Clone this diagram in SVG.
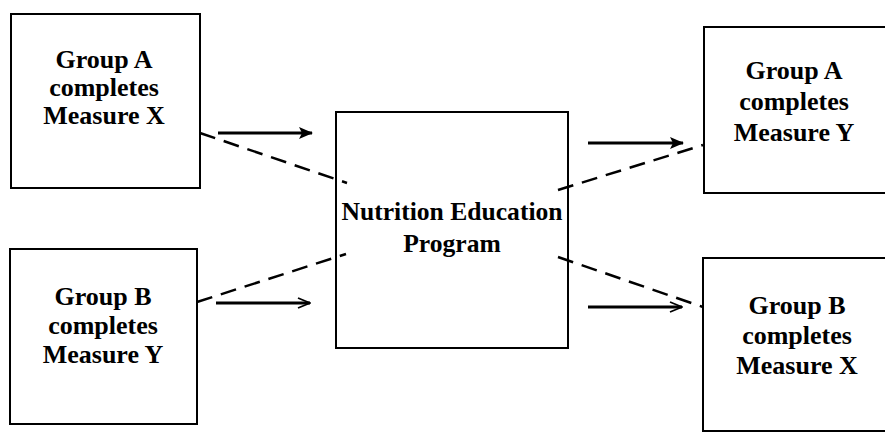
<svg xmlns="http://www.w3.org/2000/svg" width="885" height="432" viewBox="0 0 885 432">
<style>
.box{fill:#fff;stroke:#000;stroke-width:2}
.t{font-family:"Liberation Serif","Times New Roman",serif;font-weight:bold;font-size:26px;fill:#000;text-anchor:middle}
.c{font-size:25.6px}
.arr{stroke:#000;stroke-width:3.2;fill:none}
.dash{stroke:#000;stroke-width:2.5;fill:none;stroke-dasharray:16 9}
</style>
<defs>
<marker id="ah" viewBox="0 0 14 12" refX="13" refY="6" markerWidth="14" markerHeight="12" markerUnits="userSpaceOnUse" orient="auto">
<path d="M0,0 L14,6 L0,12 L3,6 Z" fill="#000"/>
</marker>
<marker id="ao" viewBox="0 0 14 12" refX="13" refY="6" markerWidth="14" markerHeight="12" markerUnits="userSpaceOnUse" orient="auto">
<path d="M1,1 L13,6 L1,11" fill="none" stroke="#000" stroke-width="1.8"/>
</marker>
</defs>
<rect width="885" height="432" fill="#fff"/>
<g id="nodeAX">
<rect class="box" x="11" y="14" width="189" height="174"/>
<text class="t" x="104" y="68">Group A</text>
<text class="t" x="104" y="96">completes</text>
<text class="t" x="104" y="124">Measure X</text>
</g>
<g id="nodeBY">
<rect class="box" x="10" y="249" width="187" height="175"/>
<text class="t" x="103" y="305">Group B</text>
<text class="t" x="103" y="334">completes</text>
<text class="t" x="103" y="363">Measure Y</text>
</g>
<g id="nodeProgram">
<rect class="box" x="336" y="112" width="232" height="236"/>
<text class="t c" x="452" y="220">Nutrition Education</text>
<text class="t c" x="452" y="252">Program</text>
</g>
<g id="nodeAY">
<rect class="box" x="704" y="27" width="190" height="166"/>
<text class="t" x="794" y="79">Group A</text>
<text class="t" x="794" y="110">completes</text>
<text class="t" x="794" y="141">Measure Y</text>
</g>
<g id="nodeBX">
<rect class="box" x="703" y="258" width="190" height="173"/>
<text class="t" x="797" y="314">Group B</text>
<text class="t" x="797" y="344">completes</text>
<text class="t" x="797" y="374">Measure X</text>
</g>
<g id="connectors">
<line class="arr" x1="218" y1="133" x2="312" y2="133" marker-end="url(#ah)"/>
<line class="arr" x1="216" y1="303" x2="310" y2="303" marker-end="url(#ao)"/>
<line class="arr" x1="588" y1="143" x2="683" y2="143" marker-end="url(#ah)"/>
<line class="arr" x1="588" y1="307" x2="682" y2="307" marker-end="url(#ao)"/>
<line class="dash" x1="200" y1="133" x2="347" y2="183"/>
<line class="dash" x1="197" y1="302" x2="346" y2="254"/>
<line class="dash" x1="558" y1="190" x2="703" y2="145"/>
<line class="dash" x1="558" y1="257" x2="703" y2="307"/>
</g>
</svg>
